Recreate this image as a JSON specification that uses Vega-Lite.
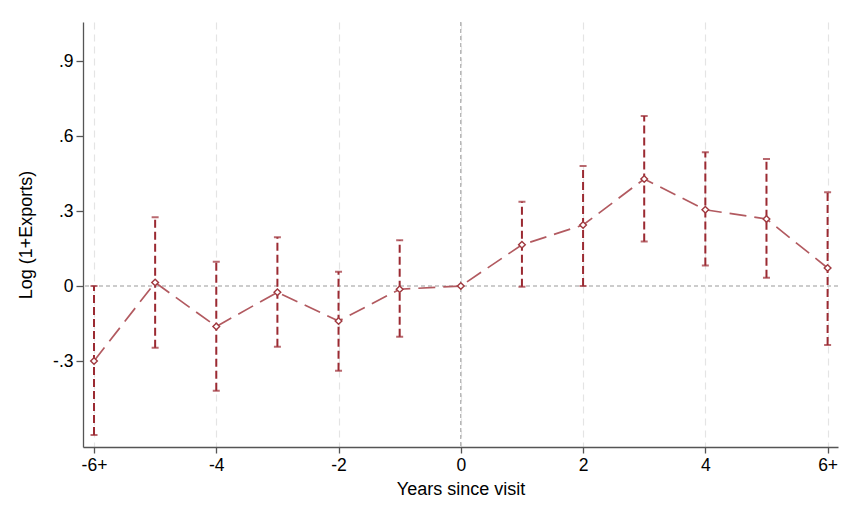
{
  "$schema": "https://vega.github.io/schema/vega-lite/v6.json",
  "width": 755,
  "height": 425,
  "autosize": {"type": "none"},
  "padding": {"left": 83, "top": 22, "right": 16, "bottom": 60},
  "background": "white",
  "config": {
    "view": {"stroke": null},
    "font": "Liberation Sans",
    "axis": {
      "labelFont": "Liberation Sans",
      "titleFont": "Liberation Sans",
      "labelFontSize": 17.5,
      "titleFontSize": 18,
      "titleFontWeight": "normal",
      "labelColor": "#000",
      "titleColor": "#000",
      "domainColor": "#555",
      "tickColor": "#555",
      "domainWidth": 1.3,
      "tickWidth": 1.3
    }
  },
  "data": {
    "values": [
      {"year": -6, "coef": -0.300, "lo": -0.596, "hi": 0.000},
      {"year": -5, "coef": 0.014, "lo": -0.247, "hi": 0.275},
      {"year": -4, "coef": -0.162, "lo": -0.419, "hi": 0.097},
      {"year": -3, "coef": -0.025, "lo": -0.243, "hi": 0.195},
      {"year": -2, "coef": -0.140, "lo": -0.339, "hi": 0.057},
      {"year": -1, "coef": -0.013, "lo": -0.203, "hi": 0.183},
      {"year": 0, "coef": 0.000, "lo": null, "hi": null},
      {"year": 1, "coef": 0.165, "lo": -0.003, "hi": 0.337},
      {"year": 2, "coef": 0.244, "lo": 0.000, "hi": 0.480},
      {"year": 3, "coef": 0.428, "lo": 0.178, "hi": 0.680},
      {"year": 4, "coef": 0.305, "lo": 0.082, "hi": 0.535},
      {"year": 5, "coef": 0.268, "lo": 0.033, "hi": 0.508},
      {"year": 6, "coef": 0.072, "lo": -0.236, "hi": 0.375}
    ]
  },
  "encoding": {
    "x": {
      "field": "year",
      "type": "quantitative",
      "scale": {"domain": [-6.18, 6.17], "nice": false, "zero": false},
      "axis": {
        "title": "Years since visit",
        "values": [-6, -4, -2, 0, 2, 4, 6],
        "labelExpr": "datum.value == -6 ? '-6+' : datum.value == 6 ? '6+' : '' + datum.value",
        "grid": true,
        "gridColor": "#e4e4e4",
        "gridDash": [7, 5],
        "gridWidth": 1.2,
        "tickSize": 6,
        "labelPadding": 3,
        "titlePadding": 7
      }
    }
  },
  "layer": [
    {
      "data": {"values": [{"v": 0}]},
      "mark": {"type": "rule", "color": "#999", "strokeDash": [4, 3], "strokeWidth": 1},
      "encoding": {"x": {"field": "v", "type": "quantitative"}}
    },
    {
      "data": {"values": [{"v": 0}]},
      "mark": {"type": "rule", "color": "#999", "strokeDash": [4, 3], "strokeWidth": 1},
      "encoding": {"x": null, "y": {"field": "v", "type": "quantitative"}}
    },
    {
      "mark": {"type": "rule", "color": "#9b2a32", "strokeDash": [8, 4], "strokeWidth": 2},
      "encoding": {
        "y": {"field": "lo", "type": "quantitative"},
        "y2": {"field": "hi"}
      }
    },
    {
      "mark": {"type": "tick", "orient": "horizontal", "color": "#9b2a32", "size": 7, "thickness": 2},
      "encoding": {"y": {"field": "lo", "type": "quantitative"}}
    },
    {
      "mark": {"type": "tick", "orient": "horizontal", "color": "#9b2a32", "size": 7, "thickness": 2},
      "encoding": {"y": {"field": "hi", "type": "quantitative"}}
    },
    {
      "mark": {"type": "line", "color": "#b25a60", "strokeDash": [17, 8], "strokeWidth": 1.7},
      "encoding": {
        "y": {
          "field": "coef",
          "type": "quantitative",
          "scale": {"domain": [-0.644, 1.056], "nice": false, "zero": false},
          "axis": {
            "title": "Log (1+Exports)",
            "values": [-0.3, 0, 0.3, 0.6, 0.9],
            "labelExpr": "datum.value == 0 ? '0' : replace('' + datum.value, '0.', '.')",
            "grid": false,
            "tickSize": 7,
            "labelPadding": 3,
            "titlePadding": 17
          }
        }
      }
    },
    {
      "mark": {"type": "point", "shape": "diamond", "filled": true, "fill": "white", "stroke": "#a0393f", "fillOpacity": 1, "size": 45, "strokeWidth": 1.4},
      "encoding": {"y": {"field": "coef", "type": "quantitative"}}
    }
  ],
  "resolve": {"scale": {"y": "shared"}}
}
